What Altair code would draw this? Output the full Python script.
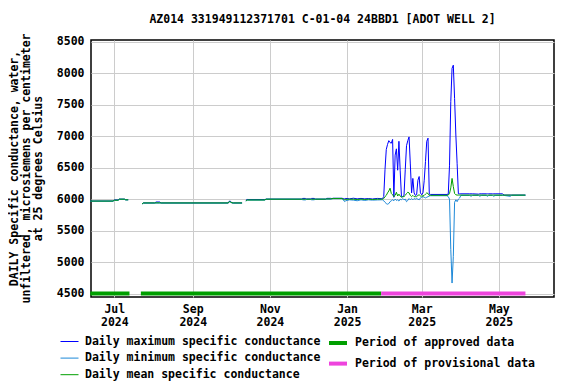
import altair as alt
import pandas as pd

FONT = "DejaVu Sans Mono"
FS = 11.5

TITLE = "AZ014 331949112371701 C-01-04 24BBD1 [ADOT WELL 2]"
Y_TITLE = ["DAILY Specific conductance, water,",
           "unfiltered, microsiemens per centimeter",
           "at 25 degrees Celsius"]

S_MAX = "Daily maximum specific conductance"
S_MIN = "Daily minimum specific conductance"
S_MEAN = "Daily mean specific conductance"
S_APP = "Period of approved data"
S_PROV = "Period of provisional data"

# ---- record segment 1 (Jun 12 - Jul 12, 2024)
SEG1_DATES = ["2024-06-12", "2024-06-30", "2024-07-01", "2024-07-04", "2024-07-05",
              "2024-07-09", "2024-07-10", "2024-07-12"]
SEG1_MAX = [5970, 5970, 5988, 5988, 6000, 6000, 5992, 5992]
SEG1_MIN = [5968, 5968, 5980, 5980, 5998, 5998, 5988, 5988]
SEG1_MEAN = [5970, 5970, 5984, 5984, 6000, 6000, 5990, 5990]

# ---- record segment 2 (Jul 23 - Oct 10, 2024)
SEG2_DATES = ["2024-07-23", "2024-07-24", "2024-08-02", "2024-08-03", "2024-08-06",
              "2024-08-07", "2024-09-29", "2024-09-30", "2024-10-01", "2024-10-02",
              "2024-10-03", "2024-10-10"]
SEG2_MAX = [5928, 5940, 5940, 5955, 5955, 5940, 5940, 5970, 5965, 5945, 5940, 5940]
SEG2_MIN = [5922, 5938, 5938, 5938, 5938, 5938, 5938, 5955, 5950, 5940, 5938, 5938]
SEG2_MEAN = [5925, 5940, 5940, 5942, 5942, 5940, 5940, 5962, 5955, 5942, 5940, 5940]

# ---- record segment 3 (Oct 13, 2024 - May 22, 2025)
SEG3_DATES = ["2024-10-13", "2024-10-14", "2024-10-28", "2024-10-29", "2024-11-26",
              "2024-11-27", "2024-11-29", "2024-11-30", "2024-12-03", "2024-12-04",
              "2024-12-06", "2024-12-07", "2024-12-15", "2024-12-16", "2024-12-19",
              "2024-12-20", "2024-12-21", "2024-12-28", "2024-12-29", "2024-12-30",
              "2024-12-31", "2025-01-03", "2025-01-06", "2025-01-09", "2025-01-12",
              "2025-01-15", "2025-01-18", "2025-01-21", "2025-01-25", "2025-01-28",
              "2025-01-29", "2025-01-30", "2025-01-31", "2025-02-01", "2025-02-02",
              "2025-02-03", "2025-02-04", "2025-02-05", "2025-02-06", "2025-02-07",
              "2025-02-08", "2025-02-09", "2025-02-10", "2025-02-11", "2025-02-12",
              "2025-02-13", "2025-02-14", "2025-02-15", "2025-02-16", "2025-02-17",
              "2025-02-18", "2025-02-19", "2025-02-20", "2025-02-21", "2025-02-22",
              "2025-02-23", "2025-02-24", "2025-02-25", "2025-02-26", "2025-02-27",
              "2025-02-28", "2025-03-01", "2025-03-02", "2025-03-03", "2025-03-04",
              "2025-03-05", "2025-03-06", "2025-03-07", "2025-03-08", "2025-03-21",
              "2025-03-22", "2025-03-23", "2025-03-24", "2025-03-25", "2025-03-26",
              "2025-03-27", "2025-03-28", "2025-03-29", "2025-03-30", "2025-03-31",
              "2025-04-01", "2025-04-08", "2025-04-09", "2025-04-10", "2025-04-15",
              "2025-04-16", "2025-04-17", "2025-04-21", "2025-04-22", "2025-04-23",
              "2025-04-26", "2025-04-27", "2025-04-28", "2025-05-04", "2025-05-05",
              "2025-05-10", "2025-05-11", "2025-05-22"]
SEG3_MAX = [5982, 5995, 5995, 6000, 6000,
            6012, 6012, 6003, 6003, 6012,
            6012, 6000, 6000, 6013, 6013,
            6010, 6014, 6014, 6010, 6005,
            6012, 6005, 6015, 6005, 6012,
            6005, 6010, 6003, 6012, 6008,
            6010, 6040, 6470, 6790, 6870,
            6930, 6900, 6890, 6950, 6030,
            6700, 6800, 6460, 6920, 6450,
            6040, 6040, 6060, 6470, 6850,
            6930, 6990, 6560, 6100, 6330,
            6100, 6060, 6070, 6300, 6360,
            6100, 6070, 6100, 6300, 6600,
            6920, 6970, 6080, 6075, 6075,
            6080, 6540, 7550, 8080, 8130,
            7600, 7020, 6570, 6085, 6085,
            6085, 6085, 6085, 6085, 6080,
            6085, 6085, 6085, 6085, 6085,
            6085, 6085, 6085, 6085, 6065,
            6065, 6065, 6065]
SEG3_MIN = [5968, 5984, 5984, 6000, 6000,
            5990, 5988, 5996, 5996, 5990,
            5990, 6000, 6000, 6000, 6000,
            6005, 6008, 6008, 5990, 5962,
            5975, 5990, 5985, 5975, 5990,
            5980, 5990, 5985, 5988, 5990,
            5990, 5975, 5950, 5930, 5920,
            5930, 5960, 5975, 5990, 5975,
            6000, 5980, 5990, 5970, 6000,
            5990, 6010, 5990, 6000, 5960,
            5980, 6010, 5990, 6010, 5990,
            6010, 6000, 6010, 6000, 5990,
            6020, 6030, 6040, 6030, 6020,
            6030, 6040, 6050, 6055, 6055,
            6040, 6000, 5200, 4667, 5090,
            5950, 5990, 5960, 6000, 6020,
            6060, 6060, 6045, 6060, 6060,
            6045, 6060, 6060, 6045, 6060,
            6060, 6045, 6060, 6060, 6060,
            6045, 6060, 6062]
SEG3_MEAN = [5975, 5988, 5988, 6000, 6000,
             6000, 6000, 6000, 6000, 6000,
             6000, 6000, 6000, 6005, 6005,
             6008, 6012, 6012, 6000, 5990,
             5998, 6000, 6000, 5995, 6002,
             5995, 6000, 5995, 6000, 6000,
             6000, 6010, 6040, 6060, 6100,
             6130, 6175, 6090, 6070, 6040,
             6060, 6110, 6050, 6080, 6050,
             6030, 6040, 6040, 6060, 6090,
             6110, 6100, 6060, 6040, 6060,
             6040, 6040, 6040, 6060, 6070,
             6050, 6050, 6050, 6060, 6080,
             6100, 6090, 6060, 6062, 6062,
             6065, 6090, 6180, 6330, 6200,
             6090, 6070, 6065, 6065, 6065,
             6065, 6065, 6065, 6065, 6065,
             6065, 6065, 6065, 6062, 6065,
             6065, 6065, 6065, 6065, 6065,
             6065, 6065, 6065]

# ---- data approval periods
PERIOD_SERIES = [S_APP, S_APP, S_PROV]
PERIOD_START = ["2024-06-12", "2024-07-22", "2025-01-28"]
PERIOD_END = ["2024-07-13", "2025-01-28", "2025-05-22"]
PERIOD_LEVEL = [4500, 4500, 4500]

Y_TICKS = [4500, 5000, 5500, 6000, 6500, 7000, 7500, 8000, 8500]

rows = []
for seg, dates, mx, mn, me in [(1, SEG1_DATES, SEG1_MAX, SEG1_MIN, SEG1_MEAN),
                               (2, SEG2_DATES, SEG2_MAX, SEG2_MIN, SEG2_MEAN),
                               (3, SEG3_DATES, SEG3_MAX, SEG3_MIN, SEG3_MEAN)]:
    for name, vals in [(S_MAX, mx), (S_MIN, mn), (S_MEAN, me)]:
        for d, v in zip(dates, vals):
            rows.append({"date": d, "value": v, "series": name, "seg": f"{name}-{seg}"})
df = pd.DataFrame(rows)

periods = pd.DataFrame({"start": PERIOD_START, "end": PERIOD_END,
                        "value": PERIOD_LEVEL, "period": PERIOD_SERIES})

LINE_DOMAIN = [S_MAX, S_MIN, S_MEAN]
LINE_COLORS = ["#0000ff", "#1c88d8", "#009f00"]
PERIOD_DOMAIN = [S_APP, S_PROV]
PERIOD_COLORS = ["#009f00", "#ee44dd"]

x_scale = alt.Scale(type="utc", domain=[
    alt.DateTime(year=2024, month=6, date=12, hours=14, utc=True),
    alt.DateTime(year=2025, month=6, date=13, hours=14, utc=True)])
x_axis = alt.Axis(
    title=None, grid=True, ticks=False, domain=False, labelOverlap=False,
    values=[alt.DateTime(year=2024, month=7, date=1, utc=True),
            alt.DateTime(year=2024, month=9, date=1, utc=True),
            alt.DateTime(year=2024, month=11, date=1, utc=True),
            alt.DateTime(year=2025, month=1, date=1, utc=True),
            alt.DateTime(year=2025, month=3, date=1, utc=True),
            alt.DateTime(year=2025, month=5, date=1, utc=True)],
    labelExpr="[utcFormat(datum.value, '%b'), utcFormat(datum.value, '%Y')]",
    labelLineHeight=13, labelPadding=6)
y_scale = alt.Scale(domain=[4445, 8530], nice=False, zero=False)
y_axis = alt.Axis(values=Y_TICKS, format="d", grid=True, ticks=False, domain=False,
                  labelPadding=7, title=Y_TITLE, titleAngle=270,
                  titleAlign="center", titleBaseline="top",
                  titleX=-83, titleY=128, titleLineHeight=12.4)

line_legend = alt.Legend(
    title=None, orient="none", legendX=-31, legendY=292, direction="vertical",
    symbolType="stroke", symbolSize=324, symbolStrokeWidth=1,
    labelOffset=6, rowPadding=1.6, padding=0, labelLimit=0)
period_legend = alt.Legend(
    title=None, orient="none", legendX=236, legendY=292, direction="vertical",
    symbolType="stroke", symbolSize=324, symbolStrokeWidth=4,
    labelOffset=6, rowPadding=1.6, padding=0, labelLimit=0)

period_layer = alt.Chart(periods).mark_rule(strokeWidth=4).encode(
    x=alt.X("start:T", scale=x_scale, axis=x_axis),
    x2="end:T",
    y=alt.Y("value:Q", scale=y_scale, axis=y_axis),
    stroke=alt.Stroke("period:N",
                      scale=alt.Scale(domain=PERIOD_DOMAIN, range=PERIOD_COLORS),
                      legend=period_legend))

line_stroke = alt.Stroke("series:N", scale=alt.Scale(domain=LINE_DOMAIN, range=LINE_COLORS),
                         legend=line_legend)

def series_layer(name):
    return alt.Chart(df).transform_filter(alt.datum.series == name).mark_line(strokeWidth=1).encode(
        x=alt.X("date:T", scale=x_scale, axis=x_axis),
        y=alt.Y("value:Q", scale=y_scale, axis=y_axis),
        stroke=line_stroke, detail="seg:N")

lines = alt.layer(series_layer(S_MAX), series_layer(S_MIN), series_layer(S_MEAN))

chart = alt.layer(period_layer, lines).resolve_scale(stroke="independent").properties(
    width=463, height=257,
    title=alt.TitleParams(TITLE, font=FONT, fontSize=FS, fontWeight="bold",
                          anchor="middle", frame="group", offset=7, color="black"),
    autosize=alt.AutoSizeParams(type="none"),
    padding={"left": 83, "top": 32, "right": 14, "bottom": 86},
).configure_view(stroke="black", strokeWidth=1.5).configure_axis(
    labelFont=FONT, labelFontSize=FS, labelFontWeight="bold", labelColor="black",
    titleFont=FONT, titleFontSize=FS, titleFontWeight="bold", titleColor="black",
    gridColor="#cccccc", gridWidth=1
).configure_legend(
    labelFont=FONT, labelFontSize=FS, labelFontWeight="bold", labelColor="black"
)

chart.save("out.html", embed_options={"renderer": "svg", "actions": False})
